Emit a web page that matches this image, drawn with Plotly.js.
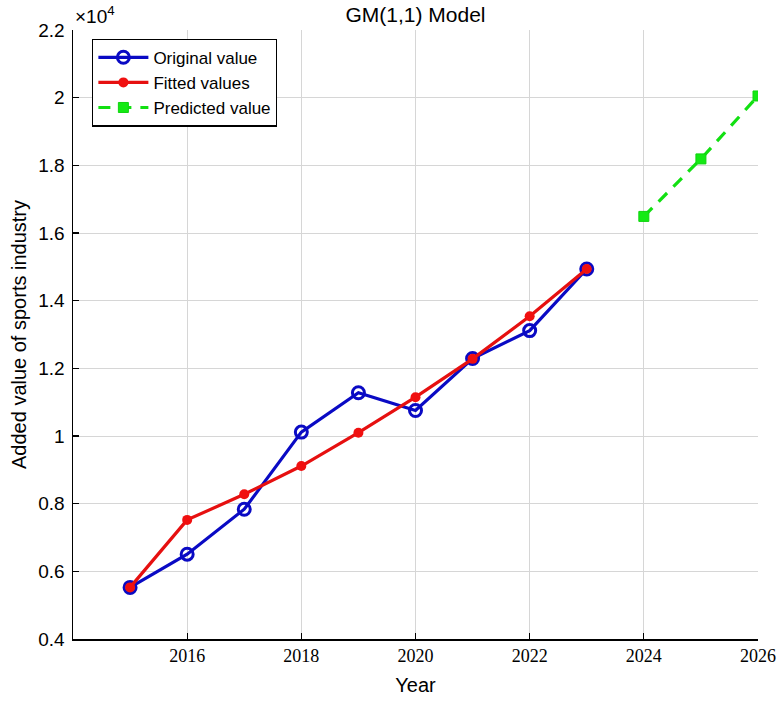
<!DOCTYPE html>
<html>
<head>
<meta charset="utf-8">
<script src="https://cdn.plot.ly/plotly-3.0.1.min.js"></script>
<style>
  html, body { margin: 0; padding: 0; background: #ffffff; }
  #chart { width: 782px; height: 701px; }
</style>
</head>
<body>
<div id="chart"></div>
<script>
// Added value of the sports industry, GM(1,1) grey model
const years = [2015, 2016, 2017, 2018, 2019, 2020, 2021, 2022, 2023];
const originalValues = [5525, 6507, 7835, 10115, 11277, 10755, 12289, 13115, 14935];
const fittedValues = [5525, 7520, 8277, 9112, 10097, 11147, 12280, 13537, 14935];
const forecastYears = [2024, 2025, 2026];
const predictedValues = [16490, 18190, 20050];

const xTicks = [2016, 2018, 2020, 2022, 2024, 2026];
const yTicks = [4000, 6000, 8000, 10000, 12000, 14000, 16000, 18000, 20000, 22000];
const yTickText = ['0.4', '0.6', '0.8', '1', '1.2', '1.4', '1.6', '1.8', '2', '2.2'];

const sans = 'Liberation Sans, Arial, sans-serif';
const serif = 'Liberation Serif, Times New Roman, serif';

const traces = [
  {
    x: years, y: originalValues, name: 'Original value',
    type: 'scatter', mode: 'lines+markers',
    line: { color: '#0a0ac4', width: 3.2 },
    marker: { symbol: 'circle-open', size: 12, color: '#0a0ac4', line: { width: 3, color: '#0a0ac4' } }
  },
  {
    x: years, y: fittedValues, name: 'Fitted values',
    type: 'scatter', mode: 'lines+markers',
    line: { color: '#e61010', width: 3.2 },
    marker: { symbol: 'circle', size: 10, color: '#f01010' }
  },
  {
    x: forecastYears, y: predictedValues, name: 'Predicted value',
    type: 'scatter', mode: 'lines+markers',
    line: { color: '#12e012', width: 3.2, dash: '12px,9px' },
    marker: { symbol: 'square', size: 10, color: '#14ea14', line: { width: 1, color: '#10d410' } }
  }
];

const layout = {
  width: 782, height: 701,
  margin: { l: 73, r: 24, t: 30, b: 62 },
  paper_bgcolor: '#ffffff', plot_bgcolor: '#ffffff',
  showlegend: true,
  title: {
    text: 'GM(1,1) Model',
    font: { family: sans, size: 21, color: '#000000' },
    xref: 'paper', x: 0.5, xanchor: 'center',
    yref: 'container', y: 0.979, yanchor: 'middle'
  },
  xaxis: {
    range: [2014, 2026],
    tickvals: xTicks, ticktext: xTicks.map(String),
    ticks: 'inside', ticklen: 6, tickcolor: '#000000', tickwidth: 1.2,
    showline: true, linecolor: '#000000', linewidth: 1.5, mirror: false,
    showgrid: true, gridcolor: '#d6d6d6', gridwidth: 1,
    zeroline: false,
    tickfont: { family: serif, size: 18, color: '#000000' },
    title: { text: 'Year', font: { family: sans, size: 20, color: '#000000' }, standoff: 13 }
  },
  yaxis: {
    range: [4000, 22000],
    tickvals: yTicks, ticktext: yTickText,
    ticks: 'inside', ticklen: 6, tickcolor: '#000000', tickwidth: 1.2,
    ticklabelstandoff: 3,
    showline: true, linecolor: '#000000', linewidth: 1.5, mirror: false,
    showgrid: true, gridcolor: '#d6d6d6', gridwidth: 1,
    zeroline: false,
    tickfont: { family: sans, size: 19, color: '#000000' },
    title: { text: 'Added value of sports industry', font: { family: sans, size: 20, color: '#000000' }, standoff: 6 }
  },
  legend: {
    x: 0.028, y: 0.986, xanchor: 'left', yanchor: 'top',
    bgcolor: '#ffffff', bordercolor: '#000000', borderwidth: 1.2,
    font: { family: sans, size: 17, color: '#000000' },
    tracegroupgap: 0, itemwidth: 50
  },
  annotations: [
    {
      text: '×10<sup>4</sup>', xref: 'paper', yref: 'paper',
      x: 0, y: 1, xanchor: 'left', yanchor: 'bottom', yshift: 1, xshift: 0,
      showarrow: false, font: { family: sans, size: 19, color: '#000000' }
    }
  ]
};

Plotly.newPlot('chart', traces, layout, { displayModeBar: false, staticPlot: true });
</script>
</body>
</html>
